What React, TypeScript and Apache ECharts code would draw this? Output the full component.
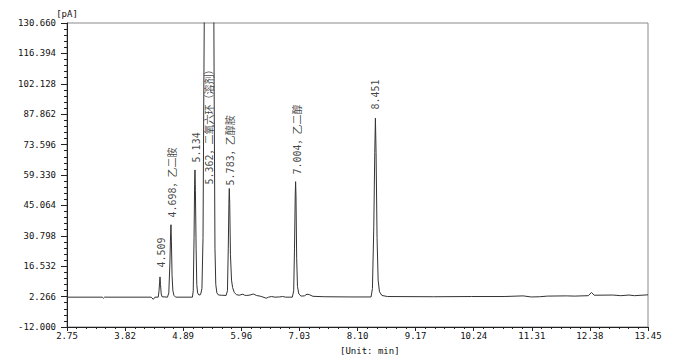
import { useEffect, useRef } from "react";
import * as echarts from "echarts";

// Axis ranges (minutes, pA)
const X_MIN = 2.75;
const X_MAX = 13.45;
const X_STEP = 1.07;
const Y_MIN = -12;
const Y_MAX = 130.66;
const Y_STEP = 14.266;

// Chromatogram trace
const retentionTime = [
  2.75, 3.4, 3.42, 3.44, 4.3, 4.34, 4.37, 4.43, 4.445, 4.455, 4.463, 4.472, 4.485, 4.5,
  4.6, 4.625, 4.645, 4.658, 4.665, 4.673, 4.685, 4.7, 4.72, 4.75,
  5.06, 5.075, 5.09, 5.1, 5.107, 5.115, 5.128, 5.14, 5.155, 5.18, 5.21,
  5.235, 5.255, 5.27, 5.285, 5.45, 5.46, 5.475, 5.49, 5.51, 5.54, 5.6, 5.68,
  5.705, 5.72, 5.733, 5.739, 5.747, 5.76, 5.78, 5.8, 5.83, 5.87, 5.92, 5.99, 6.02,
  6.06, 6.12, 6.18, 6.24, 6.32, 6.42, 6.46, 6.52, 6.58, 6.66, 6.72, 6.78, 6.9,
  6.925, 6.94, 6.953, 6.96, 6.967, 6.98, 6.995, 7.02, 7.06, 7.12, 7.17, 7.21, 7.28,
  7.5, 8.0, 8.35, 8.375, 8.4, 8.418, 8.43, 8.442, 8.46, 8.48, 8.505, 8.55, 8.65,
  9.5, 10.2, 10.8, 11.15, 11.3, 11.45, 11.6, 11.95, 12.1, 12.35, 12.41, 12.46,
  12.8, 12.95, 13.1, 13.2, 13.45,
];
const signal = [
  2.0, 2.0, 1.5, 2.0, 2.0, 1.0, 2.0, 2.0, 5.0, 9.0, 11.5, 8.0, 3.5, 2.2,
  2.0, 4.0, 18.0, 32.0, 36.0, 28.0, 12.0, 5.0, 2.8, 2.0,
  2.0, 5.0, 30.0, 55.0, 61.7, 52.0, 25.0, 8.0, 4.0, 3.0, 3.2,
  6.0, 30.0, 100.0, 160.0, 160.0, 100.0, 25.0, 8.0, 4.0, 3.0, 2.9, 2.8,
  5.0, 25.0, 48.0, 53.0, 46.0, 22.0, 10.0, 6.5, 4.2, 3.2, 2.9, 3.4, 2.9,
  2.8, 3.0, 3.5, 2.8, 2.4, 1.5, 2.0, 2.3, 2.0, 2.1, 2.3, 2.0, 2.0,
  5.0, 25.0, 50.0, 56.2, 50.0, 20.0, 7.0, 3.5, 2.5, 2.6, 3.4, 3.2, 2.4,
  2.2, 2.1, 2.1, 6.0, 35.0, 70.0, 86.0, 70.0, 30.0, 10.0, 4.5, 2.8, 2.3,
  2.2, 2.3, 2.3, 2.6, 2.1, 2.2, 2.5, 2.6, 2.5, 2.7, 4.2, 2.9,
  3.0, 2.7, 3.0, 2.7, 3.1,
];

// Peak annotations
const peakLabelTime = [4.49, 4.7, 5.135, 5.383, 5.77, 6.986, 8.44];
const peakLabelBase = [15.7, 39.1, 65.0, 54.6, 54.2, 59.3, 89.8];
const peakLabelText = [
  "4.509",
  "4.698，乙二胺",
  "5.134",
  "5.362，二氧六环（溶剂）",
  "5.783，乙醇胺",
  "7.004，乙二醇",
  "8.451",
];

const yUnit = "[pA]";
const xUnit = "[Unit: min]";

const MONO = "'DejaVu Sans Mono', 'Liberation Mono', monospace";
const LABEL_FONT = "'DejaVu Sans Mono', 'Noto Sans CJK SC', monospace";

export default function App() {
  const ref = useRef<HTMLDivElement>(null);

  useEffect(() => {
    if (!ref.current) return;
    const chart = echarts.init(ref.current, undefined, { renderer: "svg" });

    const traceData = retentionTime.map((t, i) => [t - X_MIN, signal[i] - Y_MIN]);
    const labelData = peakLabelTime.map((t, i) => ({
      value: [t - X_MIN, peakLabelBase[i] - Y_MIN],
      label: { formatter: peakLabelText[i] },
    }));

    chart.setOption({
      animation: false,
      backgroundColor: "#fff",
      grid: {
        left: 67,
        right: 25,
        top: 23,
        bottom: 37,
        show: true,
        borderColor: "#8a8a8a",
        borderWidth: 1,
        backgroundColor: "transparent",
      },
      xAxis: {
        type: "value",
        min: 0,
        max: X_MAX - X_MIN,
        interval: X_STEP,
        axisLine: { show: true, lineStyle: { color: "#222", width: 1 } },
        axisTick: { show: true, length: 4, lineStyle: { color: "#222" } },
        minorTick: { show: true, splitNumber: 6, length: 2, lineStyle: { color: "#222" } },
        splitLine: { show: false },
        axisLabel: {
          margin: 4,
          color: "#111",
          fontFamily: MONO,
          fontSize: 9,
          formatter: (v: number) => (v + X_MIN).toFixed(2),
        },
      },
      yAxis: {
        type: "value",
        min: 0,
        max: Y_MAX - Y_MIN,
        interval: Y_STEP,
        name: yUnit,
        nameLocation: "end",
        nameGap: 2,
        nameTextStyle: { fontFamily: MONO, fontSize: 9, color: "#111", align: "center", verticalAlign: "bottom" },
        axisLine: { show: true, lineStyle: { color: "#222", width: 1 } },
        axisTick: { show: true, length: 6, lineStyle: { color: "#222" } },
        minorTick: { show: true, splitNumber: 5, length: 3, lineStyle: { color: "#222" } },
        splitLine: { show: false },
        axisLabel: {
          margin: 11,
          color: "#111",
          fontFamily: MONO,
          fontSize: 9,
          formatter: (v: number) => (v + Y_MIN).toFixed(3),
        },
      },
      graphic: [
        {
          type: "text",
          left: 340,
          top: 346,
          style: { text: xUnit, fontFamily: MONO, fontSize: 9, fill: "#111" },
        },
      ],
      series: [
        {
          type: "line",
          data: traceData,
          showSymbol: false,
          symbol: "none",
          clip: true,
          lineStyle: { color: "#333", width: 1 },
          silent: true,
        },
        {
          type: "scatter",
          data: labelData,
          symbolSize: 1,
          itemStyle: { color: "rgba(0,0,0,0)" },
          silent: true,
          label: {
            show: true,
            position: "top",
            distance: 0,
            rotate: 90,
            align: "left",
            verticalAlign: "middle",
            fontFamily: LABEL_FONT,
            fontSize: 10,
            color: "#111",
          },
        },
      ],
    });

    return () => chart.dispose();
  }, []);

  return (
    <div
      ref={ref}
      style={{ position: "fixed", left: 0, top: 0, width: 673, height: 364, background: "#fff" }}
    />
  );
}
